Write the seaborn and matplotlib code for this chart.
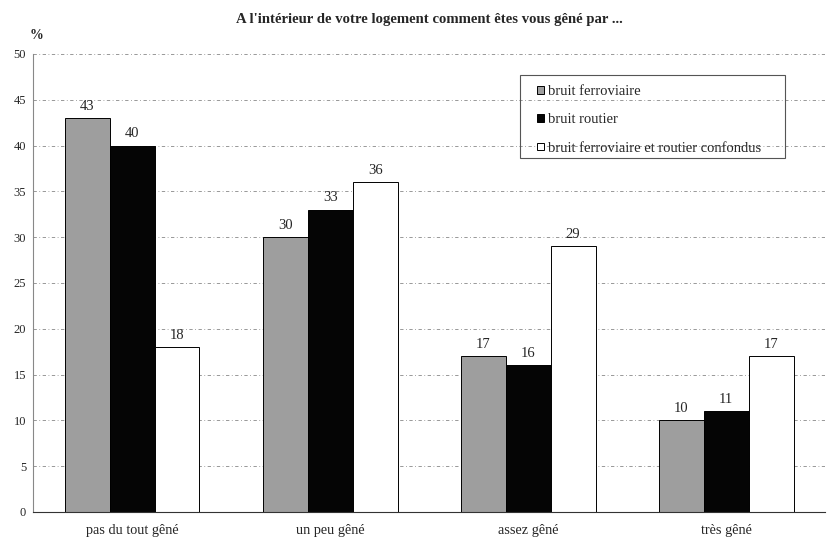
import matplotlib
matplotlib.use('Agg')
import matplotlib.pyplot as plt
from matplotlib.patches import Rectangle
import seaborn as sns
import pandas as pd

# data
categories = ['pas du tout gêné', 'un peu gêné', 'assez gêné', 'très gêné']
series = ['bruit ferroviaire', 'bruit routier', 'bruit ferroviaire et routier confondus']
ferroviaire = [43, 30, 17, 10]
routier = [40, 33, 16, 11]
confondus = [18, 36, 29, 17]
yticks = [0, 5, 10, 15, 20, 25, 30, 35, 40, 45, 50]

df = pd.DataFrame({
    'cat': categories * 3,
    'serie': [s for s in series for _ in categories],
    'val': ferroviaire + routier + confondus,
})

sns.set_style('white')
plt.rcParams['font.family'] = ['Liberation Serif', 'DejaVu Serif']

W, H = 827, 540
fig = plt.figure(figsize=(8.27, 5.4), dpi=100)
ax = fig.add_axes([0.040, 0.052, 0.958, 0.848])

colors = ['#9e9e9e', '#050505', '#ffffff']
sns.barplot(data=df, x='cat', y='val', hue='serie', hue_order=series,
            order=categories, palette=colors, width=0.68, gap=0,
            edgecolor='black', linewidth=0.7, saturation=1, ax=ax)

for cont in ax.containers:
    ax.bar_label(cont, padding=4, fontsize=10.5)

ax.set_ylim(0, 50)
ax.set_yticks(yticks)
ax.set_xlim(-0.5, 3.5)
ax.set_xlabel('')
ax.set_ylabel('')
ax.tick_params(axis='y', labelsize=9, length=3, width=0.6, color='#777777', pad=2)
ax.tick_params(axis='x', labelsize=10.3, length=0, pad=8.5)
ax.set_xticks([0.5, 1.5, 2.5], minor=True)
ax.tick_params(axis='x', which='minor', length=4, width=0.6, color='#777777', direction='inout')

ax.yaxis.grid(True, color='#888888', linewidth=0.6, linestyle=(0, (4, 3, 1, 3)))
ax.set_axisbelow(True)
for side in ['top', 'right']:
    ax.spines[side].set_visible(False)
ax.spines['left'].set_color('#888888')
ax.spines['left'].set_linewidth(0.8)
ax.spines['bottom'].set_color('#333333')
ax.spines['bottom'].set_linewidth(0.8)

fig.text(429 / W, 1 - 20 / H, "A l'intérieur de votre logement comment êtes vous gêné par ...",
         ha='center', va='center', fontsize=10.6, fontweight='bold')
fig.text(0.036, 0.935, '%', ha='left', va='center', fontsize=10, fontweight='bold')

# legend without its own frame, box drawn separately to match the wide padding
leg = ax.legend(loc='upper left', bbox_to_anchor=(537 / W, 1 - 85 / H),
                bbox_transform=fig.transFigure, fontsize=10.5, frameon=False,
                handlelength=0.45, handleheight=0.45, handletextpad=0.3,
                labelspacing=1.05, borderpad=0, borderaxespad=0)
for h in leg.legend_handles:
    h.set_linewidth(0.7)
    h.set_edgecolor('black')
fig.patches.append(Rectangle((520 / W, 1 - 158 / H), 265 / W, 83 / H,
                             transform=fig.transFigure, fill=False,
                             edgecolor='#555555', linewidth=0.8))

fig.savefig('out.png', dpi=100)
